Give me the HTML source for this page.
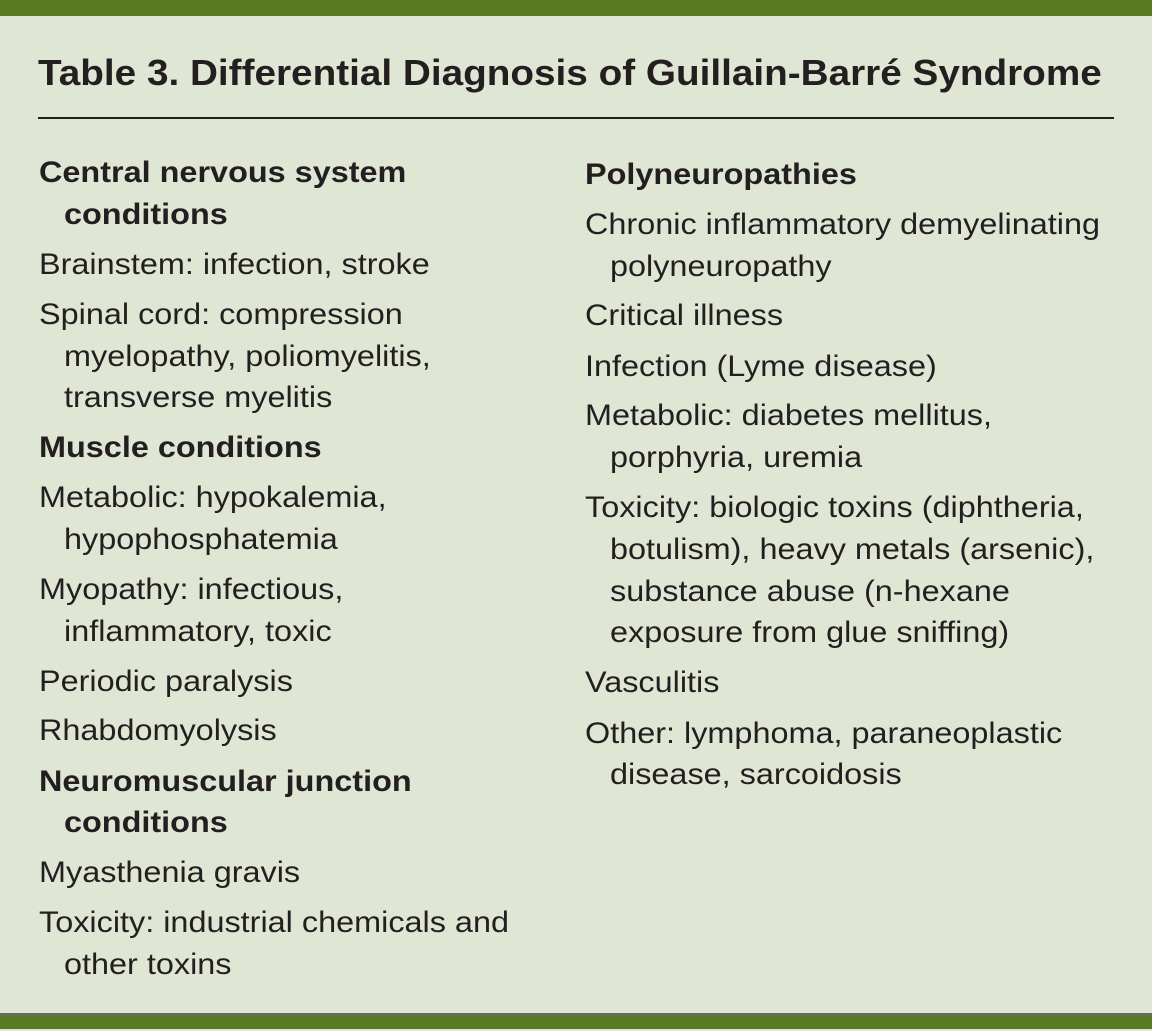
<!DOCTYPE html>
<html><head><meta charset="utf-8"><style>
html,body{margin:0;padding:0}
body{width:1152px;height:1031px;background:#dfe6d4;position:relative;overflow:hidden;font-family:"Liberation Sans",sans-serif;color:#231f20}
.l{position:absolute;white-space:nowrap;font-size:30px;line-height:42px;height:42px;transform:scaleX(1.08);transform-origin:0 0}
.b{font-weight:bold}
</style></head><body>
<div style="position:absolute;left:0;top:0;width:1152px;height:16px;background:#5a7a22"></div>
<div style="position:absolute;left:0;top:1013px;width:1152px;height:3px;background:#6b6b5e"></div>
<div style="position:absolute;left:0;top:1016px;width:1152px;height:13px;background:#5a7a22"></div>
<div class="l b" style="left:38px;top:51px;font-size:36px;height:44px;line-height:44px;transform:scaleX(1.075)">Table 3. Differential Diagnosis of Guillain-Barré Syndrome</div>
<div style="position:absolute;left:38px;top:117px;width:1076px;height:2px;background:#231f20"></div>

<div class="l b" style="left:39px;top:152px">Central nervous system</div>
<div class="l b" style="left:64px;top:194px">conditions</div>
<div class="l" style="left:39px;top:244px">Brainstem: infection, stroke</div>
<div class="l" style="left:39px;top:294px">Spinal cord: compression</div>
<div class="l" style="left:64px;top:336px">myelopathy, poliomyelitis,</div>
<div class="l" style="left:64px;top:377px">transverse myelitis</div>
<div class="l b" style="left:39px;top:427px">Muscle conditions</div>
<div class="l" style="left:39px;top:477px">Metabolic: hypokalemia,</div>
<div class="l" style="left:64px;top:519px">hypophosphatemia</div>
<div class="l" style="left:39px;top:569px">Myopathy: infectious,</div>
<div class="l" style="left:64px;top:611px">inflammatory, toxic</div>
<div class="l" style="left:39px;top:661px">Periodic paralysis</div>
<div class="l" style="left:39px;top:710px">Rhabdomyolysis</div>
<div class="l b" style="left:39px;top:761px">Neuromuscular junction</div>
<div class="l b" style="left:64px;top:802px">conditions</div>
<div class="l" style="left:39px;top:852px">Myasthenia gravis</div>
<div class="l" style="left:39px;top:902px">Toxicity: industrial chemicals and</div>
<div class="l" style="left:64px;top:944px">other toxins</div>

<div class="l b" style="left:585px;top:154px">Polyneuropathies</div>
<div class="l" style="left:585px;top:204px">Chronic inflammatory demyelinating</div>
<div class="l" style="left:610px;top:246px">polyneuropathy</div>
<div class="l" style="left:585px;top:295px">Critical illness</div>
<div class="l" style="left:585px;top:346px">Infection (Lyme disease)</div>
<div class="l" style="left:585px;top:395px">Metabolic: diabetes mellitus,</div>
<div class="l" style="left:610px;top:437px">porphyria, uremia</div>
<div class="l" style="left:585px;top:487px">Toxicity: biologic toxins (diphtheria,</div>
<div class="l" style="left:610px;top:529px">botulism), heavy metals (arsenic),</div>
<div class="l" style="left:610px;top:571px">substance abuse (n-hexane</div>
<div class="l" style="left:610px;top:612px">exposure from glue sniffing)</div>
<div class="l" style="left:585px;top:662px">Vasculitis</div>
<div class="l" style="left:585px;top:713px">Other: lymphoma, paraneoplastic</div>
<div class="l" style="left:610px;top:754px">disease, sarcoidosis</div>
</body></html>
